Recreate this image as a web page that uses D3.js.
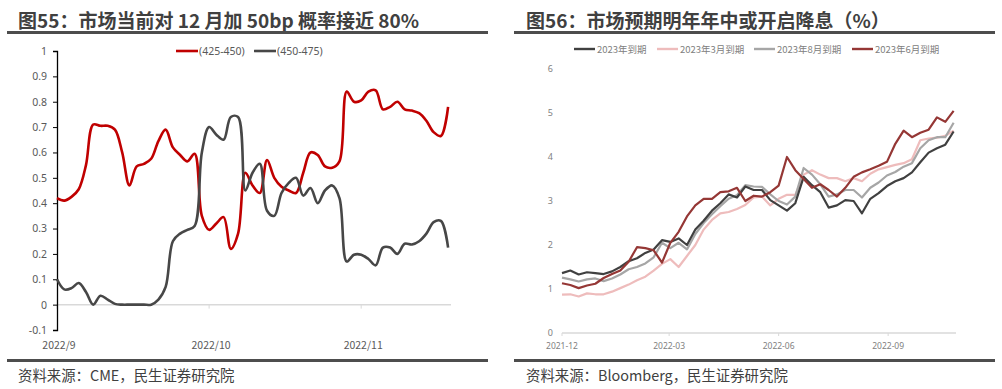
<!DOCTYPE html>
<html>
<head>
<meta charset="utf-8">
<script src="https://cdn.jsdelivr.net/npm/d3@7"></script>
<style>
  body { margin: 0; background: #fff; }
  svg { display: block; font-family: "Noto Sans CJK SC", "Noto Sans", sans-serif; }
</style>
</head>
<body>
<svg></svg>
<script>
// ---- left chart data: CME FedWatch probabilities, one point per trading day
const leftNames = ["(425-450)", "(450-475)"];
const leftTickIdx = [0, 21, 42];
const leftTickLabels = ["2022/9", "2022/10", "2022/11"];
const leftYTicks = [-0.1, 0, 0.1, 0.2, 0.3, 0.4, 0.5, 0.6, 0.7, 0.8, 0.9, 1];
const prob425 = [0.42, 0.41, 0.425, 0.455, 0.55, 0.71, 0.705, 0.705, 0.69, 0.60,
  0.47, 0.545, 0.555, 0.575, 0.645, 0.69, 0.62, 0.59, 0.565, 0.595,
  0.35, 0.295, 0.32, 0.345, 0.22, 0.28, 0.52, 0.47, 0.44, 0.57,
  0.50, 0.465, 0.45, 0.44, 0.52, 0.60, 0.59, 0.545, 0.54, 0.565,
  0.84, 0.80, 0.805, 0.84, 0.845, 0.77, 0.78, 0.80, 0.77, 0.765,
  0.755, 0.725, 0.68, 0.665, 0.78];
const prob450 = [0.10, 0.06, 0.065, 0.085, 0.05, 0.0, 0.035, 0.02, 0.003, 0,
  0, 0, 0, 0, 0.02, 0.07, 0.25, 0.28, 0.295, 0.31,
  0.60, 0.70, 0.67, 0.65, 0.74, 0.74, 0.45, 0.52, 0.555, 0.37,
  0.35, 0.44, 0.48, 0.50, 0.43, 0.46, 0.40, 0.45, 0.47, 0.42,
  0.17, 0.197, 0.197, 0.18, 0.155, 0.225, 0.225, 0.20, 0.24, 0.237,
  0.25, 0.28, 0.325, 0.33, 0.225];

// ---- right chart data: weekly, starting 2021-12-01
const rightNames = ["2023年到期", "2023年3月到期", "2023年8月到期", "2023年6月到期"];
const rightStart = "2021-12-01";
const rightTicks = ["2021-12-01", "2022-03-01", "2022-06-01", "2022-09-01"];
const rightYTicks = [0, 1, 2, 3, 4, 5, 6];
const exp2023 = [1.36, 1.42, 1.33, 1.38, 1.36, 1.34, 1.40, 1.50, 1.63, 1.70,
  1.82, 1.90, 2.11, 2.07, 2.15, 2.00, 2.35, 2.55, 2.78, 2.95,
  3.15, 3.08, 3.33, 3.25, 3.25, 3.02, 2.90, 2.78, 2.95, 3.55,
  3.36, 3.20, 2.85, 2.90, 3.02, 3.00, 2.72, 3.05, 3.18, 3.34,
  3.45, 3.52, 3.65, 3.88, 4.10, 4.20, 4.28, 4.58];
const exp2023Mar = [0.87, 0.88, 0.83, 0.90, 0.88, 0.88, 0.94, 1.02, 1.10, 1.20,
  1.28, 1.42, 1.57, 1.68, 1.50, 1.75, 2.00, 2.35, 2.57, 2.72,
  2.75, 2.82, 2.91, 3.08, 3.10, 2.90, 3.05, 3.14, 3.14, 3.60,
  3.70, 3.60, 3.52, 3.52, 3.45, 3.52, 3.45, 3.62, 3.72, 3.77,
  3.82, 3.86, 3.95, 4.38, 4.42, 4.44, 4.48, 4.60];
const exp2023Aug = [1.26, 1.22, 1.17, 1.22, 1.24, 1.18, 1.24, 1.33, 1.45, 1.50,
  1.58, 1.72, 2.05, 1.93, 2.05, 1.90, 2.25, 2.50, 2.70, 2.88,
  3.05, 3.13, 3.36, 3.33, 3.32, 3.15, 3.00, 2.92, 3.10, 3.75,
  3.60, 3.38, 3.10, 3.15, 3.25, 3.25, 3.08, 3.30, 3.42, 3.58,
  3.66, 3.78, 3.86, 4.20, 4.38, 4.45, 4.45, 4.78];
const exp2023Jun = [1.13, 1.09, 1.02, 1.08, 1.12, 1.25, 1.34, 1.42, 1.62, 1.95,
  1.93, 1.88, 1.60, 2.05, 2.30, 2.65, 2.90, 3.05, 3.05, 3.20,
  3.22, 3.30, 3.00, 3.12, 3.10, 3.20, 3.35, 4.00, 3.70, 3.50,
  3.30, 3.38, 3.25, 3.10, 3.30, 3.55, 3.65, 3.72, 3.80, 3.89,
  4.30, 4.60, 4.45, 4.55, 4.62, 4.90, 4.80, 5.05];

const width = 1002,
  height = 389,
  darkText = "#404040",
  tickText = "#595959";

const svg = d3.select("svg")
  .attr("width", width)
  .attr("height", height);

// ---- frame: titles, rules, sources
function frame(x0, x1, tx, title, source) {
  svg.append("text")
    .attr("x", tx).attr("y", 28)
    .attr("fill", darkText)
    .style("font-size", "19px")
    .style("font-weight", "bold")
    .text(title);
  svg.append("rect")
    .attr("x", x0).attr("y", 31)
    .attr("width", x1 - x0).attr("height", 3)
    .attr("fill", "#4d4d4d");
  svg.append("rect")
    .attr("x", x0).attr("y", 359)
    .attr("width", x1 - x0).attr("height", 3)
    .attr("fill", "#4d4d4d");
  svg.append("text")
    .attr("x", tx).attr("y", 381)
    .attr("fill", darkText)
    .style("font-size", "14.4px")
    .text(source);
}
frame(7, 488, 18, "图55：市场当前对 12 月加 50bp 概率接近 80%", "资料来源：CME，民生证券研究院");
frame(514, 995, 526, "图56：市场预期明年年中或开启降息（%）", "资料来源：Bloomberg，民生证券研究院");

// ================= left chart =================
const xL = d3.scaleLinear().domain([0, 54.4]).range([57, 451]);
const yL = d3.scaleLinear().domain([-0.1, 1]).range([330, 51]);

// zero line with month ticks
svg.append("line")
  .attr("x1", xL(0)).attr("x2", xL(54.4))
  .attr("y1", yL(0)).attr("y2", yL(0))
  .attr("stroke", "#d9d9d9").attr("stroke-width", 1.5);
svg.selectAll(".xtl")
  .data(leftTickIdx)
  .enter().append("line")
  .attr("x1", d => xL(d)).attr("x2", d => xL(d))
  .attr("y1", yL(0)).attr("y2", yL(0) + 4)
  .attr("stroke", "#d9d9d9");
svg.selectAll(".xll")
  .data(leftTickIdx)
  .enter().append("text")
  .attr("x", d => xL(d) + 2)
  .attr("y", 349)
  .attr("text-anchor", "middle")
  .attr("fill", tickText)
  .style("font-size", "10.5px")
  .text((d, i) => leftTickLabels[i]);

const axL = svg.append("g")
  .attr("transform", `translate(${xL(0)},0)`)
  .call(d3.axisLeft(yL).tickValues(leftYTicks).tickSize(4).tickPadding(6)
    .tickFormat(d => String(+d.toFixed(1))));
axL.select(".domain").attr("stroke", "#000").attr("stroke-width", 1.3);
axL.selectAll(".tick line").attr("stroke", "#000");
axL.selectAll(".tick text")
  .attr("fill", tickText)
  .style("font-size", "10.5px")
  .style("font-family", "'Noto Sans', sans-serif");

const lineL = d3.line()
  .x((d, i) => xL(i))
  .y(d => yL(d))
  .curve(d3.curveCatmullRom.alpha(0.5));

const leftSeries = [prob425, prob450];
const leftColors = ["#c00000", "#474747"];
leftSeries.forEach((s, k) => {
  svg.append("path")
    .datum(s)
    .attr("d", lineL)
    .attr("fill", "none")
    .attr("stroke", leftColors[k])
    .attr("stroke-width", 2.6)
    .attr("stroke-linejoin", "round");
});

// left legend
const legL = [176, 254];
leftNames.forEach((n, k) => {
  svg.append("line")
    .attr("x1", legL[k]).attr("x2", legL[k] + 22)
    .attr("y1", 51).attr("y2", 51)
    .attr("stroke", leftColors[k]).attr("stroke-width", 2.6);
  svg.append("text")
    .attr("x", legL[k] + 23).attr("y", 55)
    .attr("fill", tickText)
    .style("font-size", "10.5px")
    .style("font-family", "'Noto Sans', sans-serif")
    .text(n);
});

// ================= right chart =================
const parse = d3.timeParse("%Y-%m-%d");
const t0 = parse(rightStart);
const weeks = d3.range(exp2023.length).map(i => d3.timeDay.offset(t0, 7 * i));

const xR = d3.scaleTime().domain([t0, parse("2022-10-28")]).range([562, 956]);
const yR = d3.scaleLinear().domain([0, 6]).range([333, 69]);

svg.append("line")
  .attr("x1", 562).attr("x2", 956)
  .attr("y1", yR(0)).attr("y2", yR(0))
  .attr("stroke", "#d9d9d9").attr("stroke-width", 1.5);
svg.selectAll(".xtr")
  .data(rightTicks.map(parse))
  .enter().append("line")
  .attr("x1", d => xR(d)).attr("x2", d => xR(d))
  .attr("y1", yR(0)).attr("y2", yR(0) + 3)
  .attr("stroke", "#d9d9d9");
svg.selectAll(".xlr")
  .data(rightTicks.map(parse))
  .enter().append("text")
  .attr("x", d => xR(d))
  .attr("y", 349)
  .attr("text-anchor", "middle")
  .attr("fill", "#7f7f7f")
  .style("font-size", "8.5px")
  .style("font-family", "'Noto Sans', sans-serif")
  .text(d => d3.timeFormat("%Y-%m")(d));
svg.selectAll(".ylr")
  .data(rightYTicks)
  .enter().append("text")
  .attr("x", 553)
  .attr("y", d => yR(d) + 3)
  .attr("text-anchor", "end")
  .attr("fill", "#7f7f7f")
  .style("font-size", "9px")
  .style("font-family", "'Noto Sans', sans-serif")
  .text(d => d);

const lineR = d3.line()
  .x((d, i) => xR(weeks[i]))
  .y(d => yR(d));

// draw order: pink, light grey, dark, red on top
const rightSeries = [exp2023, exp2023Mar, exp2023Aug, exp2023Jun];
const rightColors = ["#404040", "#eebcbc", "#a6a6a6", "#953735"];
[1, 2, 0, 3].forEach(k => {
  svg.append("path")
    .datum(rightSeries[k])
    .attr("d", lineR)
    .attr("fill", "none")
    .attr("stroke", rightColors[k])
    .attr("stroke-width", 2.2)
    .attr("stroke-linejoin", "round");
});

// right legend
const legR = [574, 657, 754, 852];
rightNames.forEach((n, k) => {
  svg.append("line")
    .attr("x1", legR[k]).attr("x2", legR[k] + 21)
    .attr("y1", 49).attr("y2", 49)
    .attr("stroke", rightColors[k]).attr("stroke-width", 2.4);
  svg.append("text")
    .attr("x", legR[k] + 23).attr("y", 52.5)
    .attr("fill", "#808080")
    .style("font-size", "9.5px")
    .text(n);
});
</script>
</body>
</html>
